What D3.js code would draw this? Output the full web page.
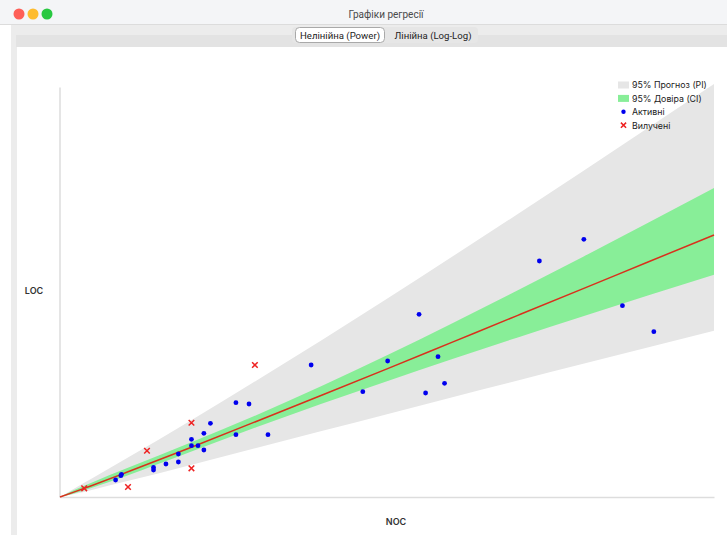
<!DOCTYPE html>
<html>
<head>
<meta charset="utf-8">
<script src="https://cdn.jsdelivr.net/npm/d3@7"></script>
<style>
  html, body { margin: 0; padding: 0; background: #ffffff; overflow: hidden; }
  svg { display: block; }
</style>
</head>
<body>
<script>
// Observed modules: number of classes (NOC) vs lines of code (LOC)
const activeNoc = [8.5, 9.3, 9.4, 14.3, 14.3, 16.2, 18.1, 18.1, 20.1, 20.1, 21.1, 22.0, 22.0, 23.0,
                   26.9, 28.9, 26.9, 31.8, 38.4, 54.9, 50.1, 57.8, 46.3, 55.9, 58.8, 80.1, 73.3, 86.0, 90.8];
const activeLoc = [415, 520, 554, 722, 659, 805, 1049, 854, 1407, 1251, 1251, 1554, 1146, 1798,
                   2300, 2268, 1520, 1520, 3220, 4456, 3317, 3422, 2568, 2537, 2773, 6285, 5756, 4666, 4032];
const excludedNoc = [3.7, 10.4, 13.3, 20.1, 20.1, 29.8];
const excludedLoc = [212, 244, 1129, 1812, 700, 3220];

// Power-law fit with 95% confidence and prediction bands
const bandNoc = [0, 2, 5, 10, 20, 30, 40, 50, 60, 70, 80, 90, 100];
const fitLoc  = [0, 112, 288, 590, 1209, 1842, 2481, 3126, 3778, 4430, 5083, 5738, 6390];
const ciLow   = [0, 80, 229, 506, 1101, 1700, 2274, 2826, 3366, 3893, 4409, 4919, 5418];
const ciHigh  = [0, 156, 362, 688, 1328, 1995, 2707, 3458, 4240, 5041, 5860, 6693, 7536];
const piLow   = [0, 65, 178, 376, 783, 1196, 1609, 2021, 2434, 2843, 3249, 3653, 4053];
const piHigh  = [0, 192, 466, 926, 1867, 2837, 3826, 4835, 5865, 6902, 7952, 9011, 10074];

const windowTitle = "Графіки регресії";
const tabLabels = ["Нелінійна (Power)", "Лінійна (Log-Log)"];
const legendLabels = ["95% Прогноз (PI)", "95% Довіра (CI)", "Активні", "Вилучені"];
const xLabel = "NOC";
const yLabel = "LOC";

const W = 727, H = 535;
const uiFont = "Roboto, 'Noto Sans', sans-serif";
const chartFont = "Inter, Roboto, sans-serif";

const svg = d3.select("body").append("svg").attr("width", W).attr("height", H);

// ---- window chrome ----
svg.append("rect").attr("x", 0).attr("y", 0).attr("width", W).attr("height", H).attr("fill", "#ffffff");
svg.append("rect").attr("x", 0).attr("y", 0).attr("width", W).attr("height", 24).attr("fill", "#f4f5f7");
svg.append("rect").attr("x", 11).attr("y", 24).attr("width", W - 11).attr("height", H - 24).attr("fill", "#ececec");
svg.append("line").attr("x1", 0).attr("x2", W).attr("y1", 24.5).attr("y2", 24.5).attr("stroke", "#dcdcdc");
svg.append("rect").attr("x", 16).attr("y", 35).attr("width", W - 16).attr("height", 12).attr("fill", "#e3e3e3");
svg.append("rect").attr("x", 17).attr("y", 47).attr("width", W - 17).attr("height", H - 47).attr("fill", "#ffffff");

const lights = [["#fe5f57", 19], ["#febc2e", 33], ["#28c840", 47]];
svg.selectAll("circle.light").data(lights).join("circle")
  .attr("class", "light").attr("cx", d => d[1]).attr("cy", 14).attr("r", 5.5).attr("fill", d => d[0]);

svg.append("text").attr("x", 386).attr("y", 17.5).attr("text-anchor", "middle")
  .attr("font-family", uiFont).attr("font-size", 10).attr("fill", "#4a4a4a").text(windowTitle);

// segmented tab control
svg.append("rect").attr("x", 292).attr("y", 27).attr("width", 186).attr("height", 16).attr("rx", 4)
  .attr("fill", "#e6e6e6");
svg.append("rect").attr("x", 295.5).attr("y", 27.5).attr("width", 89).attr("height", 15).attr("rx", 4)
  .attr("fill", "#ffffff").attr("stroke", "#a9a9a9");
svg.append("text").attr("x", 340).attr("y", 38.8).attr("text-anchor", "middle")
  .attr("font-family", uiFont).attr("font-size", 9.6).attr("fill", "#222").text(tabLabels[0]);
svg.append("text").attr("x", 433).attr("y", 38.8).attr("text-anchor", "middle")
  .attr("font-family", uiFont).attr("font-size", 9.6).attr("fill", "#222").text(tabLabels[1]);

// ---- chart ----
const x = d3.scaleLinear().domain([0, 100]).range([60, 714]);
const y = d3.scaleLinear().domain([0, 10000]).range([497, 87]);

const band = bandNoc.map((n, i) => ({ n, fit: fitLoc[i], ciLo: ciLow[i], ciHi: ciHigh[i], piLo: piLow[i], piHi: piHigh[i] }));

const g = svg.append("g");

g.append("path").datum(band)
  .attr("fill", "#e6e6e6")
  .attr("d", d3.area().curve(d3.curveMonotoneX).x(d => x(d.n)).y0(d => y(d.piLo)).y1(d => y(d.piHi)));

g.append("path").datum(band)
  .attr("fill", "#88ee98")
  .attr("d", d3.area().curve(d3.curveMonotoneX).x(d => x(d.n)).y0(d => y(d.ciLo)).y1(d => y(d.ciHi)));

// axes: plain lines, no ticks
const axisY = d3.axisLeft(y).tickValues([]).tickSizeOuter(0);
const axisX = d3.axisBottom(x).tickValues([]).tickSizeOuter(0);
const gx = g.append("g").attr("transform", `translate(0,${y(0)})`).call(axisX);
const gy = g.append("g").attr("transform", `translate(${x(0) - 0.5},0)`).call(axisY);
[gx, gy].forEach(a => a.select(".domain").attr("stroke", "#dddddd").attr("stroke-width", 1.5));

g.append("path").datum(band)
  .attr("fill", "none").attr("stroke", "#d9301c").attr("stroke-width", 1.5)
  .attr("d", d3.line().curve(d3.curveMonotoneX).x(d => x(d.n)).y(d => y(d.fit)));

g.selectAll("circle.active").data(activeNoc.map((n, i) => [n, activeLoc[i]])).join("circle")
  .attr("class", "active").attr("cx", d => x(d[0])).attr("cy", d => y(d[1])).attr("r", 2.4)
  .attr("fill", "#0000ee");

const cross = (sel, s) => sel.attr("d", `M${-s},${-s}L${s},${s}M${-s},${s}L${s},${-s}`)
  .attr("stroke", "#ee2222").attr("stroke-width", 1.5).attr("fill", "none");

g.selectAll("path.excluded").data(excludedNoc.map((n, i) => [n, excludedLoc[i]])).join("path")
  .attr("class", "excluded").attr("transform", d => `translate(${x(d[0])},${y(d[1])})`)
  .call(cross, 2.8);

// axis titles
svg.append("text").attr("x", 34).attr("y", 294).attr("text-anchor", "middle")
  .attr("font-family", chartFont).attr("font-size", 9).attr("font-weight", 600).attr("fill", "#333").text(yLabel);
svg.append("text").attr("x", 396).attr("y", 525).attr("text-anchor", "middle")
  .attr("font-family", chartFont).attr("font-size", 9).attr("font-weight", 600).attr("fill", "#333").text(xLabel);

// ---- legend ----
const leg = svg.append("g").attr("transform", "translate(618,85)");
const rowH = 13.4;
leg.append("rect").attr("x", 0).attr("y", -3.5).attr("width", 11).attr("height", 7).attr("fill", "#e6e6e6");
leg.append("rect").attr("x", 0).attr("y", rowH - 3.5).attr("width", 11).attr("height", 7).attr("fill", "#88ee98");
leg.append("circle").attr("cx", 5.5).attr("cy", rowH * 2).attr("r", 2.2).attr("fill", "#0000ee");
leg.append("path").attr("transform", `translate(5.5,${rowH * 3})`).call(cross, 2.6);
leg.selectAll("text").data(legendLabels).join("text")
  .attr("x", 14).attr("y", (d, i) => i * rowH + 3.3)
  .attr("font-family", chartFont).attr("font-size", 8.8).attr("fill", "#222").text(d => d);
</script>
</body>
</html>
